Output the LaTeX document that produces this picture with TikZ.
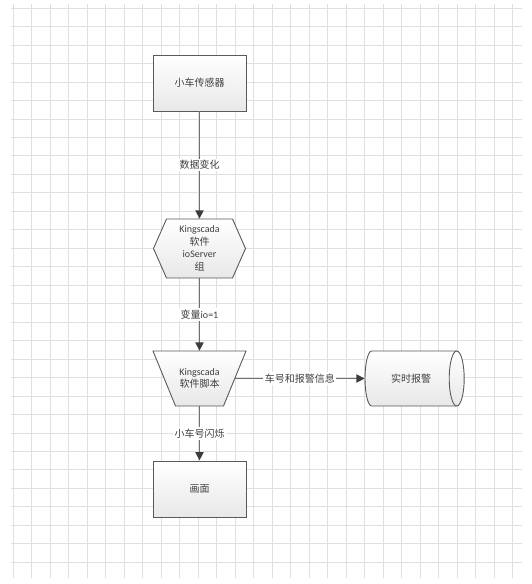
\documentclass[tikz,border=0pt]{standalone}
\usepackage{fontspec}
\setmainfont{Carlito}
\newfontfamily\cjk{Noto Sans CJK SC}
\usetikzlibrary{arrows.meta}
\definecolor{edgegray}{HTML}{5A5A5A}
\definecolor{linegray}{HTML}{707070}
\definecolor{tipgray}{HTML}{3C3C3C}
\definecolor{textgray}{HTML}{404040}
\definecolor{gridgray}{HTML}{E0E0E0}
\begin{document}
\begin{tikzpicture}[x=1pt, y=-1pt,
  box/.style={draw=edgegray, line width=0.9pt, top color=white, bottom color=black!9},
  txt/.style={text=textgray, font=\fontsize{10}{12.5}\selectfont, align=center, inner sep=0pt},
  flow/.style={draw=linegray, line width=1.8pt, -{Triangle[length=8.5pt,width=8pt,color=tipgray]}},
  tag/.style={fill=white, inner sep=1.5pt, text=textgray, font=\fontsize{10}{12}\selectfont}]
\useasboundingbox (0,0) rectangle (531,584);
\foreach \i in {0,...,27} \draw[gridgray, line width=0.6pt] (13+18.5*\i,4) -- (13+18.5*\i,578);
\foreach \j in {0,...,30} \draw[gridgray, line width=0.6pt] (11,8+18.47*\j) -- (522,8+18.47*\j);
\draw[box] (166.5,219) -- (232.5,219) -- (245.5,248.5) -- (232.5,278) -- (166.5,278) -- (153.5,248.5) -- cycle;
\draw[box] (153,351) -- (246,351) -- (223.5,406) -- (175.5,406) -- cycle;
\draw[box] (371.7,351) -- (456.7,351) arc[start angle=90, end angle=-90, x radius=7.5pt, y radius=27.5pt]
  -- (371.7,406) arc[start angle=-90, end angle=-270, x radius=6.7pt, y radius=27.5pt] -- cycle;
\draw[edgegray, line width=0.9pt] (456.7,351) arc[start angle=90, end angle=270, x radius=7.5pt, y radius=27.5pt];
\node (sensor)[box, txt, minimum width=93pt, minimum height=56pt] at (199.5, 83) {\cjk 小车传感器};
\node (io)[txt, minimum width=92pt, minimum height=59pt] at (199.5, 248.5) {Kingscada\\{\cjk 软件}\\ioServer\\{\cjk 组}};
\node (script)[txt, minimum width=70pt, minimum height=55pt] at (199.5, 378.5) {Kingscada\\{\cjk 软件脚本}};
\node (alarm)[txt, minimum width=92pt, minimum height=55pt] at (411, 378.5) {\cjk 实时报警};
\node (screen)[box, txt, minimum width=93pt, minimum height=56pt] at (199.5, 489) {\cjk 画面};
\draw[flow] (sensor) -- (io) node[tag, pos=0.5] {\cjk 数据变化};
\draw[flow] (io) -- (script) node[tag, pos=0.5] {{\cjk 变量}io=1};
\draw[flow] (script.east) -- (alarm.west) node[tag, pos=0.5] {\cjk 车号和报警信息};
\draw[flow] (script) -- (screen) node[tag, pos=0.5] {\cjk 小车号闪烁};
\end{tikzpicture}
\end{document}
